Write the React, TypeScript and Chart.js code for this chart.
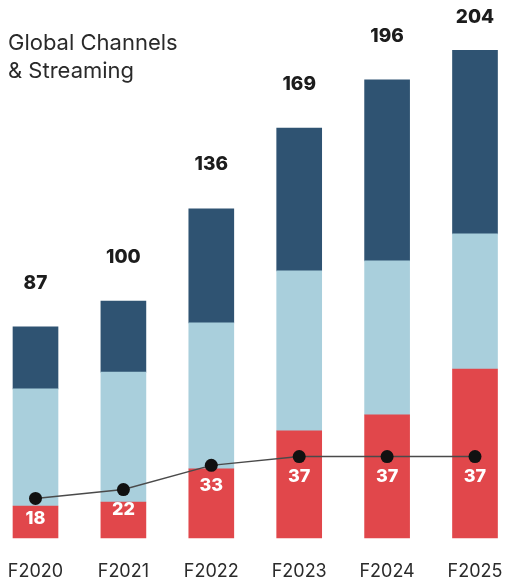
import { useEffect, useRef } from "react";
import { Chart, registerables } from "chart.js";

Chart.register(...registerables);

const categories = ["F2020", "F2021", "F2022", "F2023", "F2024", "F2025"];
const redValues = [13.4, 15, 28.9, 44.8, 51.5, 70.7];
const lightValues = [49, 54.4, 61.1, 66.9, 64.4, 56.5];
const darkValues = [25.9, 29.7, 47.7, 59.8, 75.7, 76.8];
const totalLabels = [87, 100, 136, 169, 196, 204];
const lineValues = [18, 22, 33, 37, 37, 37];
const titleLines = ["Global Channels", "& Streaming"];

const FONT = "Inter, 'Open Sans', sans-serif";

const labelPlugin = {
  id: "customLabels",
  afterDatasetsDraw(chart: any) {
    const ctx = chart.ctx;
    const topMeta = chart.getDatasetMeta(2);
    const lineMeta = chart.getDatasetMeta(3);
    ctx.save();
    ctx.textAlign = "center";
    ctx.textBaseline = "middle";
    ctx.font = `800 19px ${FONT}`;
    ctx.fillStyle = "#1c1c1c";
    topMeta.data.forEach((bar: any, i: number) => {
      const y = Math.max(bar.y - 44, 17);
      ctx.fillText(String(totalLabels[i]), bar.x, y);
    });
    ctx.font = `800 18px ${FONT}`;
    ctx.fillStyle = "#ffffff";
    lineMeta.data.forEach((pt: any, i: number) => {
      ctx.fillText(String(lineValues[i]), pt.x, pt.y + 20);
    });
    ctx.restore();
  },
};

export default function App() {
  const canvasRef = useRef<HTMLCanvasElement | null>(null);

  useEffect(() => {
    if (!canvasRef.current) return;
    const chart = new Chart(canvasRef.current, {
      type: "bar",
      data: {
        labels: categories,
        datasets: [
          {
            type: "bar",
            data: redValues,
            backgroundColor: "#e1474b",
            barThickness: 45,
            clip: false as any,
            order: 1,
          },
          {
            type: "bar",
            data: lightValues,
            backgroundColor: "#a9cfdc",
            barThickness: 45,
            clip: false as any,
            order: 1,
          },
          {
            type: "bar",
            data: darkValues,
            backgroundColor: "#2f5372",
            barThickness: 45,
            clip: false as any,
            order: 1,
          },
          {
            type: "line",
            data: lineValues,
            yAxisID: "y1",
            borderColor: "#4a4a4a",
            borderWidth: 1.5,
            pointRadius: 6.5,
            pointBackgroundColor: "#111111",
            pointBorderColor: "#111111",
            pointBorderWidth: 0,
            tension: 0,
            clip: false as any,
            order: 0,
          } as any,
        ],
      },
      options: {
        responsive: false,
        animation: false,
        layout: { padding: { top: 12, left: 35.5, right: 31, bottom: 0 } },
        plugins: {
          legend: { display: false },
          tooltip: { enabled: false },
        },
        scales: {
          x: {
            stacked: true,
            offset: false,
            grid: { display: false, drawTicks: false },
            border: { display: false },
            ticks: {
              padding: 23,
              color: "#2b2b2b",
              font: { family: FONT, size: 18 },
              maxRotation: 0,
              autoSkip: false,
            },
            afterFit: (scale: any) => {
              scale.height = 40;
              scale.paddingLeft = 0;
              scale.paddingRight = 0;
            },
          },
          y: { stacked: true, display: false, min: 0, max: 220 },
          y1: { stacked: false, display: false, min: 0, max: 239 },
        },
      },
      plugins: [labelPlugin],
    });
    return () => chart.destroy();
  }, []);

  return (
    <div style={{ position: "absolute", left: 0, top: 0, width: 506, height: 578 }}>
      <canvas ref={canvasRef} width={506} height={578} style={{ display: "block" }} />
      <div
        style={{
          position: "absolute",
          left: 8,
          top: 28,
          fontFamily: FONT,
          fontSize: 22,
          lineHeight: "28px",
          color: "#2a2a2a",
        }}
      >
        {titleLines.map((t) => (
          <div key={t}>{t}</div>
        ))}
      </div>
    </div>
  );
}
